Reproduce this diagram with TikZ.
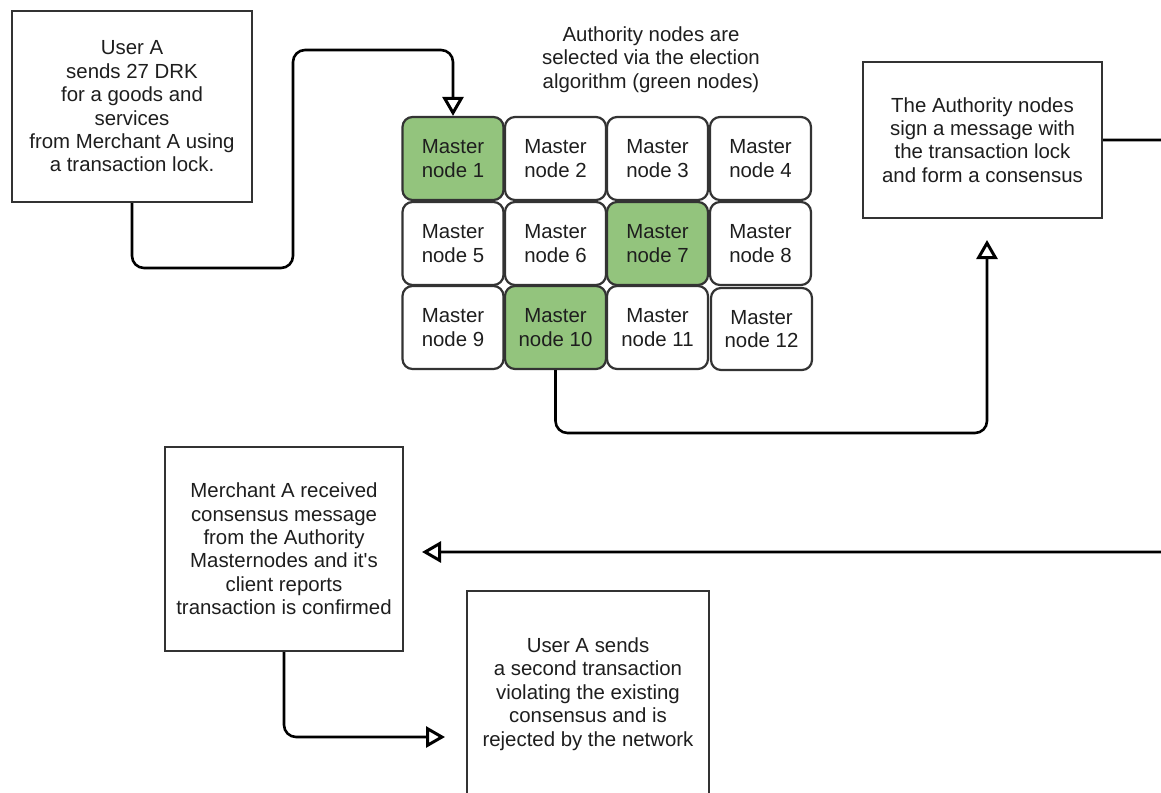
\documentclass[tikz,border=0pt]{standalone}
\usepackage{fontspec}
\setmainfont{Liberation Sans}
\usetikzlibrary{arrows.meta}
\definecolor{gfill}{RGB}{147,196,125}
\definecolor{edgegray}{RGB}{51,51,51}
\definecolor{txtgray}{RGB}{30,30,30}
\begin{document}
\begin{tikzpicture}[x=1pt,y=-1pt,
  font=\fontsize{20.4}{23.4}\selectfont, text=txtgray,
  stepbox/.style={draw=edgegray, line width=2.4pt, fill=white, align=center, inner sep=0pt},
  mnode/.style={draw=edgegray, line width=2.2pt, fill=white, rounded corners=10pt,
    minimum width=101pt, minimum height=83pt, align=center, inner sep=0pt},
  authority/.style={fill=gfill},
  conn/.style={draw=black, line width=2.6pt, rounded corners=12pt,
    -{Triangle[open, length=19pt, width=21pt, line width=3pt]}}]
\useasboundingbox (0,0) rectangle (1161,792);
\clip (0,0) rectangle (1161,792);

% step boxes
\node[stepbox, minimum width=240pt, minimum height=191pt] (userA) at (132,106.5)
  {User A\\sends 27 DRK\\for a goods and\\services\\from Merchant A using\\a transaction lock.};
\node[stepbox, minimum width=239pt, minimum height=156pt] (sign) at (982.5,140)
  {The Authority nodes\\sign a message with\\the transaction lock\\and form a consensus};
\node[stepbox, minimum width=238pt, minimum height=204pt] (merchant) at (284,549)
  {Merchant A received\\consensus message\\from the Authority\\Masternodes and it\textquotesingle s\\client reports\\transaction is confirmed};
\node[stepbox, minimum width=242pt, minimum height=206pt] (reject) at (588,694)
  {User A sends\\a second transaction\\violating the existing\\consensus and is\\rejected by the network};

% title
\node[align=center, inner sep=0pt] (title) at (651,59.5)
  {Authority nodes are\\selected via the election\\algorithm (green nodes)};

% master node grid
\node[mnode, authority] (n1) at (453,158.5) {Master\\node 1};
\node[mnode] (n2) at (555.5,158.5) {Master\\node 2};
\node[mnode] (n3) at (657.5,158.5) {Master\\node 3};
\node[mnode] (n4) at (760.5,158.5) {Master\\node 4};
\node[mnode] (n5) at (453,243.5) {Master\\node 5};
\node[mnode] (n6) at (555.5,243.5) {Master\\node 6};
\node[mnode, authority] (n7) at (657.5,243.5) {Master\\node 7};
\node[mnode] (n8) at (760.5,243.5) {Master\\node 8};
\node[mnode] (n9) at (453,327.5) {Master\\node 9};
\node[mnode, authority] (n10) at (555.5,327.5) {Master\\node 10};
\node[mnode] (n11) at (657.5,327.5) {Master\\node 11};
\node[mnode, minimum height=82pt] (n12) at (761.5,329) {Master\\node 12};

% free ends of connectors
\coordinate (tipSign) at (987,240);
\coordinate (tipMerchant) at (422,552);
\coordinate (tipReject) at (445,737);

% connectors
\draw[conn] (userA.south) -- (userA.south |- 0,268) -- (293,268) -- (293,50)
  -- (n1.north |- 0,50) -- (n1.north);
\draw[conn] (n10.south) -- (n10.south |- 0,433) -- (tipSign |- 0,433) -- (tipSign);
\draw[conn] (sign.east) -- (1173,140) -- (1173,552) -- (tipMerchant);
\draw[conn] (merchant.south) -- (merchant.south |- tipReject) -- (tipReject);
\end{tikzpicture}
\end{document}
